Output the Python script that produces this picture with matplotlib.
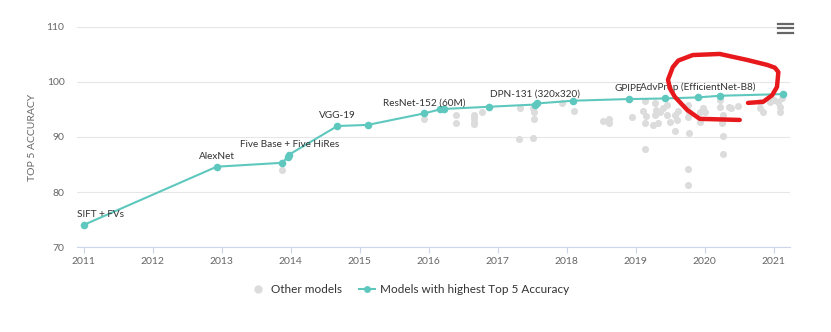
import numpy as np
import matplotlib.pyplot as plt
from matplotlib.lines import Line2D

plt.rcParams['font.family'] = ['Lato', 'DejaVu Sans']

# Modelos con mayor Top 5 Accuracy (linea)
bestYears = [2011.0, 2012.93, 2013.87, 2013.97, 2013.98, 2014.68, 2015.12, 2015.94, 2016.16,
             2016.22, 2016.88, 2017.54, 2017.57, 2018.10, 2018.90, 2019.42, 2019.90, 2020.23, 2021.14]
bestAcc = [74.0, 84.6, 85.3, 86.4, 86.8, 92.0, 92.2, 94.3, 95.0,
           95.1, 95.5, 95.9, 96.1, 96.6, 96.9, 97.0, 97.2, 97.5, 97.8]
bestNames = ['SIFT + FVs', 'AlexNet', '', '', 'Five Base + Five HiRes', 'VGG-19', '', 'ResNet-152 (60M)', '',
             '', '', 'DPN-131 (320x320)', '', '', 'GPIPE', '', 'AdvProp (EfficientNet-B8)', '', '']

# Otros modelos (puntos grises)
otherYears = [2013.87, 2015.94, 2016.40, 2016.40, 2016.66, 2016.66, 2016.66, 2016.66, 2016.77,
              2017.32, 2017.31, 2017.52, 2017.53, 2017.53, 2017.52, 2017.93, 2018.11, 2018.53,
              2018.61, 2018.61, 2018.95, 2019.14, 2019.11, 2019.15, 2019.14, 2019.14, 2019.28,
              2019.30, 2019.28, 2019.36, 2019.40, 2019.45, 2019.45, 2019.50, 2019.26, 2019.33,
              2019.57, 2019.60, 2019.57, 2019.62, 2019.76, 2019.78, 2019.76, 2019.78, 2019.76,
              2019.76, 2019.94, 2019.98, 2020.01, 2019.94, 2020.23, 2020.23, 2020.27, 2020.26,
              2020.26, 2020.27, 2020.27, 2020.35, 2020.39, 2020.49, 2020.80, 2020.80, 2020.85,
              2020.95, 2021.00, 2021.07, 2021.09, 2021.10, 2021.12]
otherAcc = [84.0, 93.2, 94.0, 92.6, 94.0, 93.4, 92.8, 92.3, 94.5,
            95.2, 89.6, 95.2, 94.6, 93.2, 89.9, 96.1, 94.8, 92.9,
            93.2, 92.6, 93.7, 96.5, 94.7, 93.8, 92.6, 87.8, 96.1,
            94.9, 94.0, 94.6, 95.2, 95.8, 94.0, 92.8, 92.2, 92.6,
            94.0, 93.1, 91.0, 94.7, 95.8, 94.6, 93.7, 90.8, 84.2,
            81.3, 94.6, 95.2, 94.6, 92.8, 96.7, 95.5, 94.0, 93.1,
            92.5, 90.2, 86.9, 95.5, 95.2, 95.7, 96.4, 95.2, 94.6,
            96.4, 96.7, 96.4, 95.5, 94.6, 97.0]

yearTicks = list(range(2011, 2022))
accTicks = [70, 80, 90, 100, 110]

# Trazo rojo a mano alzada (anotacion)
redX = [2020.63, 2020.85, 2020.98, 2021.05, 2021.07, 2021.02, 2020.91, 2020.62, 2020.22, 2019.83,
        2019.62, 2019.54, 2019.47, 2019.50, 2019.57, 2019.75, 2019.93, 2020.51]
redY = [96.2, 96.4, 97.6, 99.1, 101.8, 102.6, 103.1, 104.0, 105.1, 104.9,
        103.9, 102.7, 100.4, 98.8, 97.3, 94.9, 93.3, 93.1]

teal = '#5ec8be'
grey = '#dcdcdc'

fig = plt.figure(figsize=(8.31, 3.32), dpi=100)
ax = fig.add_axes([0.0927, 0.256, 0.858, 0.6627])

ax.scatter(otherYears, otherAcc, s=26, color=grey, zorder=2, linewidths=0)
ax.plot(bestYears, bestAcc, color=teal, lw=1.5, zorder=3)
ax.scatter(bestYears, bestAcc, s=30, color=teal, zorder=4, linewidths=0)

for x, y, name in zip(bestYears, bestAcc, bestNames):
    if not name:
        continue
    if x < 2011.5:
        ax.annotate(name, (x, y), xytext=(-5, 4), textcoords='offset points',
                    ha='left', va='bottom', fontsize=7.2, color='#333333', zorder=5)
    else:
        ax.annotate(name, (x, y), xytext=(0, 4), textcoords='offset points',
                    ha='center', va='bottom', fontsize=7.2, color='#333333', zorder=5)

ax.plot(redX, redY, color='#e8191c', lw=3.2, solid_capstyle='round', solid_joinstyle='round',
        zorder=6, clip_on=False)

ax.set_xlim(2010.906, 2021.239)
ax.set_ylim(70, 110)
ax.set_xticks(yearTicks)
ax.set_yticks(accTicks)
ax.grid(axis='y', color='#e6e6e6', lw=0.8)
ax.set_axisbelow(True)
for side in ['top', 'right', 'left']:
    ax.spines[side].set_visible(False)
ax.spines['bottom'].set_color('#ccd6eb')
ax.spines['bottom'].set_linewidth(0.8)
ax.tick_params(axis='x', colors='#ccd6eb', length=4, width=0.8, pad=3, labelsize=7.5, labelcolor='#666666')
ax.tick_params(axis='y', length=0, pad=9, labelsize=7.5, labelcolor='#666666')
ax.set_ylabel('TOP 5 ACCURACY', fontsize=7.5, color='#666666', labelpad=7)

handles = [
    Line2D([], [], ls='none', marker='o', ms=6, color=grey, markeredgewidth=0),
    Line2D([], [], color=teal, lw=1.5, marker='o', ms=5, markeredgewidth=0),
]
fig.legend(handles, ['Other models', 'Models with highest Top 5 Accuracy'], loc='center',
           bbox_to_anchor=(0.493, 0.128), ncol=2, frameon=False, fontsize=8.5,
           handlelength=1.3, handletextpad=0.4, columnspacing=1.5, labelcolor='#333333')

# Icono de menu
for yy in [24, 28.3, 32.7]:
    fig.add_artist(Line2D([778 / 831, 793 / 831], [1 - yy / 332, 1 - yy / 332],
                          color='#666666', lw=1.6))

plt.savefig('out.png', dpi=100)
